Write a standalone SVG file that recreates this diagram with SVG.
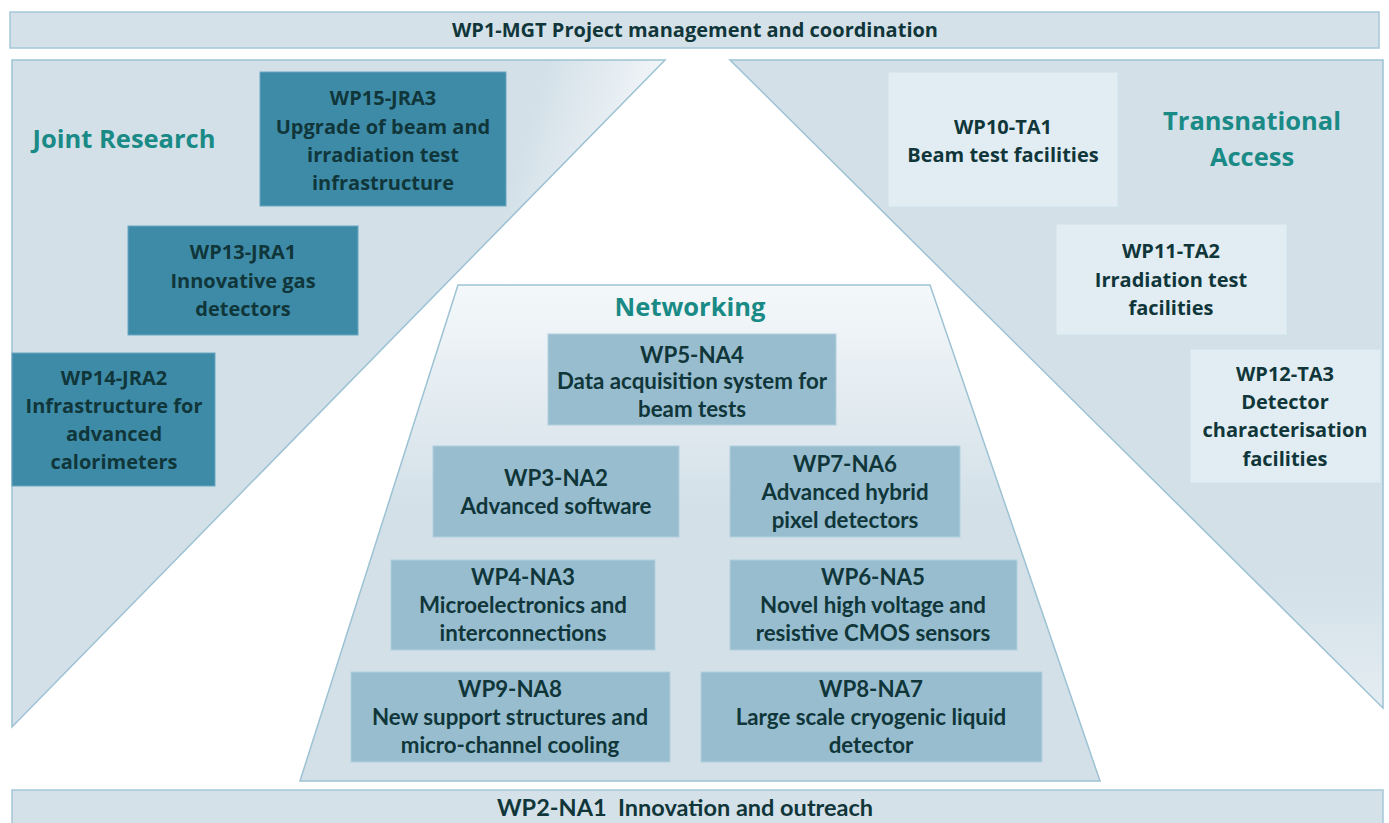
<svg xmlns="http://www.w3.org/2000/svg" width="1389" height="823" viewBox="0 0 1389 823">
<defs>
<linearGradient id="gLeft" x1="0" y1="0" x2="1" y2="0.3">
<stop offset="0" stop-color="#d3e0e8"/>
<stop offset="0.75" stop-color="#d3e0e8"/>
<stop offset="1" stop-color="#ffffff"/>
</linearGradient>
<linearGradient id="gRight" x1="0" y1="0" x2="0" y2="1">
<stop offset="0" stop-color="#d3e0e8"/>
<stop offset="0.8" stop-color="#d3e0e8"/>
<stop offset="1" stop-color="#e4edf2"/>
</linearGradient>
<linearGradient id="gNet" x1="0" y1="0" x2="0" y2="1">
<stop offset="0" stop-color="#f4f8fa"/>
<stop offset="0.45" stop-color="#d3e0e8"/>
<stop offset="1" stop-color="#d3e0e8"/>
</linearGradient>
<style>
.band{fill:#d4e1e9;stroke:#a4c7d7;stroke-width:1.5}
.region{stroke:#9cc2d4;stroke-width:1.5}
.jra{fill:#3e8ba8;stroke:#6aa6bf;stroke-width:1}
.ta{fill:#e1edf3;stroke:#d0e2ea;stroke-width:1}
.na{fill:#97bdcf;stroke:#b2d0dd;stroke-width:1}
text{font-family:"Open Sans",Lato,"Liberation Sans",sans-serif;font-weight:bold;fill:#10363a;text-anchor:middle}
.t{font-size:20px}
.n{font-family:Lato,"Open Sans",sans-serif;font-size:22.3px}
.b{font-family:Lato,"Open Sans",sans-serif;font-size:23.5px}
.head{font-size:25.5px;fill:#1a8a86}
</style>
</defs>
<g id="regions">
<polygon class="region" points="12,60 665,60 12,727" fill="url(#gLeft)"/>
<polygon class="region" points="730,60 1383,60 1383,708" fill="url(#gRight)"/>
<polygon class="region" points="458,285 930,285 1100,781 300,781" fill="url(#gNet)"/>
</g>
<g id="wp1">
<rect class="band" x="10" y="12" width="1369" height="36"/>
<text class="t" x="695" y="37">WP1-MGT Project management and coordination</text>
</g>
<g id="wp2">
<rect class="band" x="12" y="790" width="1371" height="40"/>
<text class="b" x="685" y="816" xml:space="preserve">WP2-NA1  Innovation and outreach</text>
</g>
<g id="label-jr"><text class="head" x="124" y="148">Joint Research</text></g>
<g id="label-ta"><text class="head" x="1252" y="130">Transnational</text><text class="head" x="1252" y="166">Access</text></g>
<g id="label-net"><text class="head" x="690" y="316">Networking</text></g>
<g id="wp15">
<rect class="jra" x="260" y="72" width="246" height="134"/>
<text class="t" x="383" y="105">WP15-JRA3</text>
<text class="t" x="383" y="134">Upgrade of beam and</text>
<text class="t" x="383" y="162">irradiation test</text>
<text class="t" x="383" y="190">infrastructure</text>
</g>
<g id="wp13">
<rect class="jra" x="128" y="226" width="230" height="109"/>
<text class="t" x="243" y="259">WP13-JRA1</text>
<text class="t" x="243" y="288">Innovative gas</text>
<text class="t" x="243" y="316">detectors</text>
</g>
<g id="wp14">
<rect class="jra" x="12" y="353" width="203" height="133"/>
<text class="t" x="114" y="385">WP14-JRA2</text>
<text class="t" x="114" y="413">Infrastructure for</text>
<text class="t" x="114" y="441">advanced</text>
<text class="t" x="114" y="469">calorimeters</text>
</g>
<g id="wp10">
<rect class="ta" x="888" y="72" width="230" height="135"/>
<text class="t" x="1003" y="134">WP10-TA1</text>
<text class="t" x="1003" y="162">Beam test facilities</text>
</g>
<g id="wp11">
<rect class="ta" x="1056" y="224" width="231" height="111"/>
<text class="t" x="1171" y="258">WP11-TA2</text>
<text class="t" x="1171" y="287">Irradiation test</text>
<text class="t" x="1171" y="315">facilities</text>
</g>
<g id="wp12">
<rect class="ta" x="1190" y="349" width="191" height="134"/>
<text class="t" x="1285" y="381">WP12-TA3</text>
<text class="t" x="1285" y="409">Detector</text>
<text class="t" x="1285" y="437">characterisation</text>
<text class="t" x="1285" y="466">facilities</text>
</g>
<g id="wp5">
<rect class="na" x="548" y="334" width="288" height="91"/>
<text class="n" x="692" y="363">WP5-NA4</text>
<text class="n" x="692" y="389">Data acquisition system for</text>
<text class="n" x="692" y="417">beam tests</text>
</g>
<g id="wp3">
<rect class="na" x="433" y="446" width="246" height="91"/>
<text class="n" x="556" y="486">WP3-NA2</text>
<text class="n" x="556" y="514">Advanced software</text>
</g>
<g id="wp7">
<rect class="na" x="730" y="446" width="230" height="91"/>
<text class="n" x="845" y="472">WP7-NA6</text>
<text class="n" x="845" y="500">Advanced hybrid</text>
<text class="n" x="845" y="528">pixel detectors</text>
</g>
<g id="wp4">
<rect class="na" x="391" y="560" width="264" height="90"/>
<text class="n" x="523" y="585">WP4-NA3</text>
<text class="n" x="523" y="613">Microelectronics and</text>
<text class="n" x="523" y="641">interconnections</text>
</g>
<g id="wp6">
<rect class="na" x="730" y="560" width="287" height="90"/>
<text class="n" x="873" y="585">WP6-NA5</text>
<text class="n" x="873" y="613">Novel high voltage and</text>
<text class="n" x="873" y="641">resistive CMOS sensors</text>
</g>
<g id="wp9">
<rect class="na" x="351" y="672" width="319" height="90"/>
<text class="n" x="510" y="697">WP9-NA8</text>
<text class="n" x="510" y="725">New support structures and</text>
<text class="n" x="510" y="753">micro-channel cooling</text>
</g>
<g id="wp8">
<rect class="na" x="701" y="672" width="341" height="90"/>
<text class="n" x="871" y="697">WP8-NA7</text>
<text class="n" x="871" y="725">Large scale cryogenic liquid</text>
<text class="n" x="871" y="753">detector</text>
</g>
<g id="connectors"/>
</svg>
